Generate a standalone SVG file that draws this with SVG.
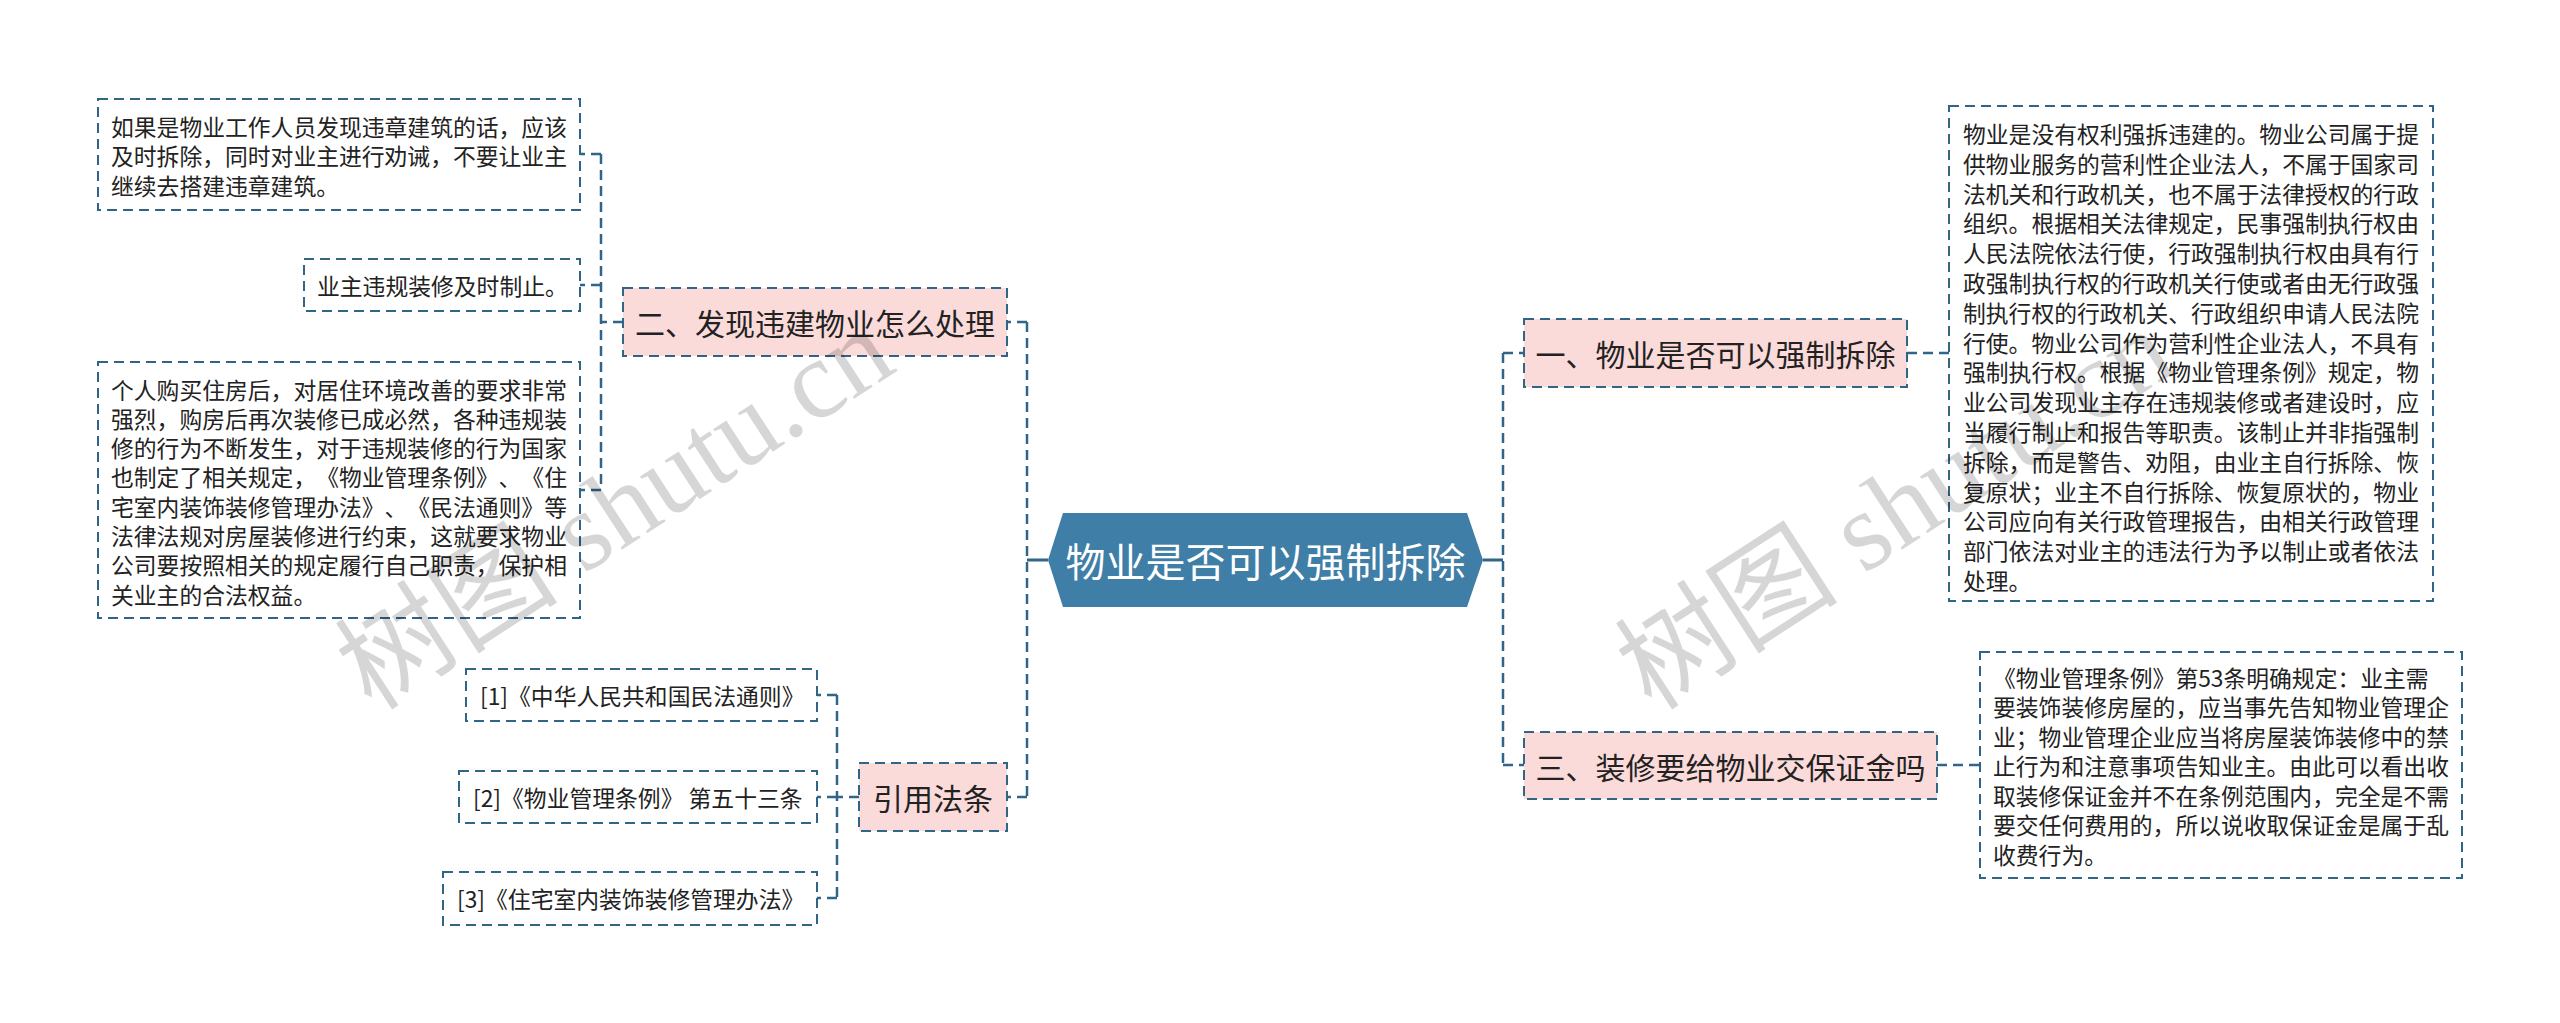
<svg xmlns="http://www.w3.org/2000/svg" width="2560" height="1023" viewBox="0 0 2560 1023">
<style>
.leaf{fill:#ffffff;stroke:#2f6688;stroke-width:2;stroke-dasharray:10 6}
.main{fill:#fbdada;stroke:#2f6688;stroke-width:2;stroke-dasharray:10 6}
.conn{fill:none;stroke:#2f6688;stroke-width:2.5;stroke-dasharray:10 6}
.solid{fill:none;stroke:#2f6688;stroke-width:3}
.t{font-family:"Noto Sans CJK SC","Microsoft YaHei",sans-serif;fill:#222;dominant-baseline:central;text-spacing-trim:space-all;font-feature-settings:"chws" 0,"halt" 0}
.s{font-size:22.8px}
.m{font-size:30px;text-anchor:middle}
.c{font-size:40px;text-anchor:middle;fill:#ffffff}
.wm{font-family:"Liberation Serif","Noto Sans CJK SC",serif;font-size:112px;fill:#000;fill-opacity:0.16}
</style>
<rect width="2560" height="1023" fill="#ffffff"/>
<g id="connectors">
<path class="solid" d="M1048 560 H1027"/>
<path class="solid" d="M1483 560 H1503"/>
<path class="conn" d="M1027 322 V797"/>
<path class="conn" d="M1027 322 H1007"/>
<path class="conn" d="M1027 797 H1007"/>
<path class="conn" d="M1503 353 V765"/>
<path class="conn" d="M1503 353 H1524"/>
<path class="conn" d="M1503 765 H1524"/>
<path class="conn" d="M1907 353 H1949"/>
<path class="conn" d="M1937 765 H1980"/>
<path class="conn" d="M623 322 H601"/>
<path class="conn" d="M601 154 V490"/>
<path class="conn" d="M601 154 H580"/>
<path class="conn" d="M601 285 H580"/>
<path class="conn" d="M601 490 H580"/>
<path class="conn" d="M859 797 H837"/>
<path class="conn" d="M837 695 V898"/>
<path class="conn" d="M837 695 H817"/>
<path class="conn" d="M837 797 H817"/>
<path class="conn" d="M837 898 H817"/>
</g>
<g id="center">
<polygon points="1048,560 1063,513 1467,513 1483,560 1467,607 1063,607" fill="#3f7ea6"/>
<text class="t c" x="1265.5" y="560">物业是否可以强制拆除</text>
</g>
<g id="n1">
<rect class="main" x="1524" y="319" width="383" height="68"/>
<text class="t m" x="1715.5" y="353">一、物业是否可以强制拆除</text>
</g>
<g id="n3">
<rect class="main" x="1524" y="732" width="413" height="67"/>
<text class="t m" x="1730.5" y="765.5">三、装修要给物业交保证金吗</text>
</g>
<g id="n2">
<rect class="main" x="623" y="288" width="384" height="68"/>
<text class="t m" x="815" y="322">二、发现违建物业怎么处理</text>
</g>
<g id="n4">
<rect class="main" x="859" y="763" width="148" height="68"/>
<text class="t m" x="933" y="797">引用法条</text>
</g>
<g id="leaf1">
<rect class="leaf" x="1949" y="106" width="484" height="495"/>
<text class="t s" x="1963">
<tspan x="1963" y="133">物业是没有权利强拆违建的。物业公司属于提</tspan>
<tspan x="1963" y="162.8">供物业服务的营利性企业法人，不属于国家司</tspan>
<tspan x="1963" y="192.6">法机关和行政机关，也不属于法律授权的行政</tspan>
<tspan x="1963" y="222.4">组织。根据相关法律规定，民事强制执行权由</tspan>
<tspan x="1963" y="252.2">人民法院依法行使，行政强制执行权由具有行</tspan>
<tspan x="1963" y="282">政强制执行权的行政机关行使或者由无行政强</tspan>
<tspan x="1963" y="311.8">制执行权的行政机关、行政组织申请人民法院</tspan>
<tspan x="1963" y="341.6">行使。物业公司作为营利性企业法人，不具有</tspan>
<tspan x="1963" y="371.4">强制执行权。根据《物业管理条例》规定，物</tspan>
<tspan x="1963" y="401.2">业公司发现业主存在违规装修或者建设时，应</tspan>
<tspan x="1963" y="431">当履行制止和报告等职责。该制止并非指强制</tspan>
<tspan x="1963" y="460.8">拆除，而是警告、劝阻，由业主自行拆除、恢</tspan>
<tspan x="1963" y="490.6">复原状；业主不自行拆除、恢复原状的，物业</tspan>
<tspan x="1963" y="520.4">公司应向有关行政管理报告，由相关行政管理</tspan>
<tspan x="1963" y="550.2">部门依法对业主的违法行为予以制止或者依法</tspan>
<tspan x="1963" y="580">处理。</tspan>
</text>
</g>
<g id="leaf2">
<rect class="leaf" x="1980" y="652" width="482" height="226"/>
<text class="t s">
<tspan x="1993" y="676.5">《物业管理条例》第53条明确规定：业主需</tspan>
<tspan x="1993" y="706">要装饰装修房屋的，应当事先告知物业管理企</tspan>
<tspan x="1993" y="735.5">业；物业管理企业应当将房屋装饰装修中的禁</tspan>
<tspan x="1993" y="765">止行为和注意事项告知业主。由此可以看出收</tspan>
<tspan x="1993" y="794.5">取装修保证金并不在条例范围内，完全是不需</tspan>
<tspan x="1993" y="824">要交任何费用的，所以说收取保证金是属于乱</tspan>
<tspan x="1993" y="853.5">收费行为。</tspan>
</text>
</g>
<g id="leafA">
<rect class="leaf" x="98" y="99" width="482" height="111"/>
<text class="t s">
<tspan x="111" y="125.5">如果是物业工作人员发现违章建筑的话，应该</tspan>
<tspan x="111" y="155">及时拆除，同时对业主进行劝诫，不要让业主</tspan>
<tspan x="111" y="184.5">继续去搭建违章建筑。</tspan>
</text>
</g>
<g id="leafB">
<rect class="leaf" x="304" y="259" width="276" height="52"/>
<text class="t s" x="317" y="285">业主违规装修及时制止。</text>
</g>
<g id="leafC">
<rect class="leaf" x="98" y="362" width="482" height="256"/>
<text class="t s">
<tspan x="111" y="388.5">个人购买住房后，对居住环境改善的要求非常</tspan>
<tspan x="111" y="417.8">强烈，购房后再次装修已成必然，各种违规装</tspan>
<tspan x="111" y="447.1">修的行为不断发生，对于违规装修的行为国家</tspan>
<tspan x="111" y="476.4">也制定了相关规定，《物业管理条例》、《住</tspan>
<tspan x="111" y="505.7">宅室内装饰装修管理办法》、《民法通则》等</tspan>
<tspan x="111" y="535">法律法规对房屋装修进行约束，这就要求物业</tspan>
<tspan x="111" y="564.3">公司要按照相关的规定履行自己职责，保护相</tspan>
<tspan x="111" y="593.6">关业主的合法权益。</tspan>
</text>
</g>
<g id="ref1">
<rect class="leaf" x="466" y="669" width="351" height="52"/>
<text class="t s" x="480" y="695">[1]《中华人民共和国民法通则》</text>
</g>
<g id="ref2">
<rect class="leaf" x="459" y="771" width="358" height="52"/>
<text class="t s" x="473" y="797">[2]《物业管理条例》 第五十三条</text>
</g>
<g id="ref3">
<rect class="leaf" x="443" y="872" width="374" height="53"/>
<text class="t s" x="457" y="898">[3]《住宅室内装饰装修管理办法》</text>
</g>
<g id="watermark">
<text class="wm" transform="translate(372,712) rotate(-33)">树图 shutu.cn</text>
<text class="wm" transform="translate(1652,712) rotate(-33)">树图 shutu.cn</text>
</g>
</svg>
